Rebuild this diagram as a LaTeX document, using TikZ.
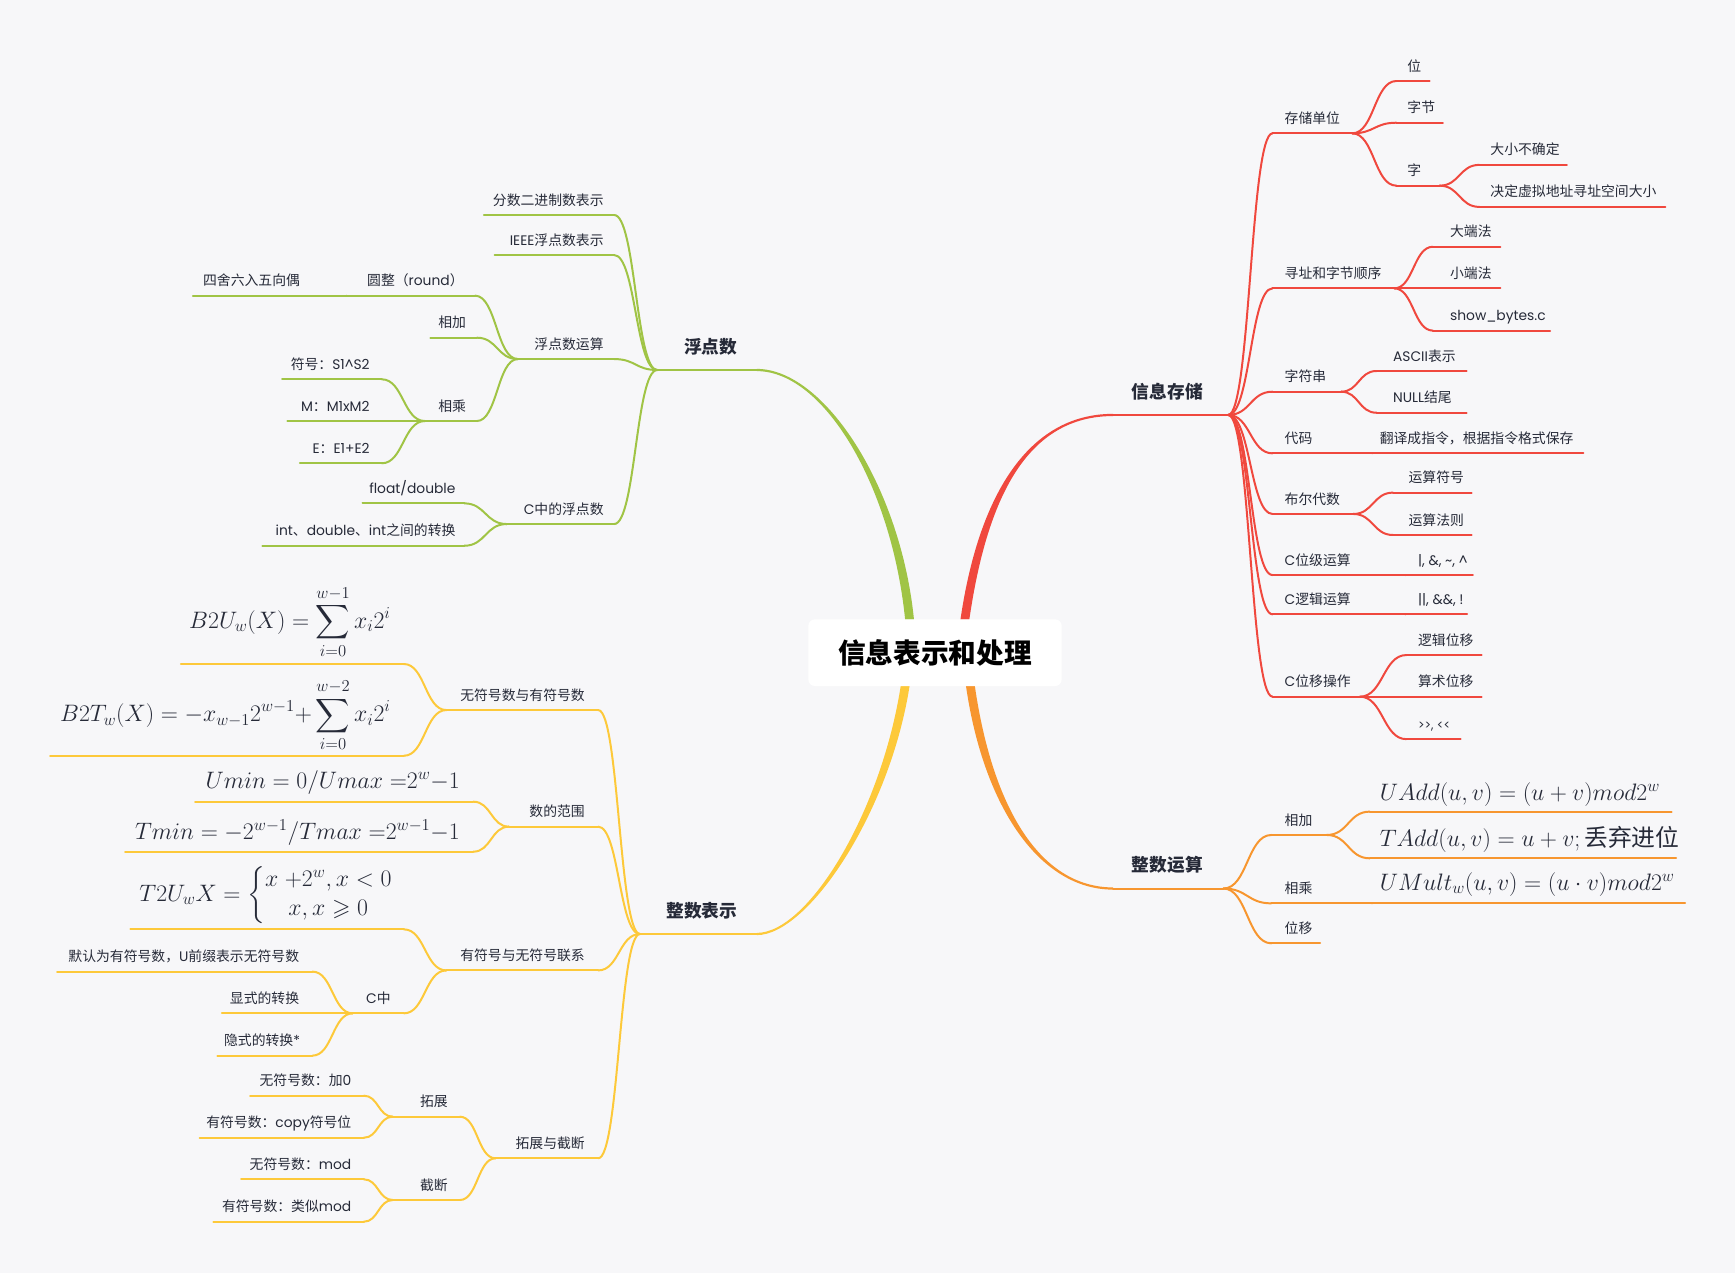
\RequirePackage{fix-cm}
\documentclass[tikz,border=0pt]{standalone}
\usepackage{amsmath,amssymb}
\usepackage[no-math]{fontspec}
\setmainfont{Noto Sans CJK SC}
\newfontfamily\lat{Poppins}
\usetikzlibrary{calc}
\definecolor{bgc}{HTML}{F7F7F9}
\definecolor{cr}{HTML}{F0483E}
\definecolor{co}{HTML}{F7962F}
\definecolor{cg}{HTML}{A0C445}
\definecolor{cy}{HTML}{FDC93A}
\definecolor{ctx}{HTML}{262A38}
\tikzset{
  lbl/.style={inner sep=0pt, outer sep=0pt, text=ctx, font=\fontsize{12.5}{15}\selectfont},
  mlbl/.style={inner sep=0pt, outer sep=0pt, text=ctx, font=\fontsize{16}{19}\selectfont\bfseries},
  fml/.style={inner sep=0pt, outer sep=0pt, text=ctx, font=\fontsize{21.5}{26}\selectfont},
  br/.style={line width=1.8pt, draw=#1, line cap=round},
}
\newcommand\conn[3]{\draw[br=#1] (#2) .. controls ($(#2)!0.5!(#3 |- #2)$) and ($(#3)!0.5!(#2 |- #3)$) .. (#3);}
\newcommand\tp[8]{%
  \coordinate (#1-s) at (#3,#5);
  \coordinate (#1-e) at (#4,#5);
  \draw[br=#2] (#1-s) -- (#1-e);
  \node[lbl, anchor=#6] (#1) at (#7,#5-9) {#8};}
\newcommand\ul[5]{%
  \coordinate (#1-s) at (#3,#5);
  \coordinate (#1-e) at (#4,#5);
  \draw[br=#2] (#1-s) -- (#1-e);}
\begin{document}
\begin{tikzpicture}[x=1pt,y=-1pt]
\fill[bgc] (0,0) rectangle (1568,1150.4);
\useasboundingbox (0,0) rectangle (1568,1150.4);

% ---------- main branches (tapered) ----------
\fill[cg] (818,560) .. controls (806,440) and (745,335.4) .. (684,335.4) -- (684,333.4) .. controls (745,333.4) and (814,440) .. (826,560) -- cycle;
\fill[cr] (868,560) .. controls (884,450) and (928,374) .. (1006,374) -- (1006,376) .. controls (928,376) and (892,450) .. (876,560) -- cycle;
\fill[cy] (814,620) .. controls (796,735) and (730,843.1) .. (684,843.1) -- (684,845.1) .. controls (730,845.1) and (804,735) .. (822,620) -- cycle;
\fill[co] (873,620) .. controls (889,730) and (940,804) .. (1006,804) -- (1006,802) .. controls (940,802) and (897,730) .. (881,620) -- cycle;

\node[fill=white, rounded corners=6pt, inner sep=0pt, minimum width=229pt, minimum height=60.3pt,
      font=\fontsize{25}{30}\selectfont\bfseries, text=black] (C) at (845,589.85) {信息表示和处理};

% ---------- 信息存储 (red) ----------
\ul{R}{cr}{1006}{1110}{375}
\node[mlbl, anchor=base west] (R) at (1023,360) {信息存储};
\tp{r1}{cr}{1150}{1222}{120.5}{base west}{1161}{存储单位}
\tp{r11}{cr}{1262}{1292}{73.2}{base west}{1272}{位}
\tp{r12}{cr}{1262}{1304}{110.9}{base west}{1272}{字节}
\tp{r13}{cr}{1262}{1301}{167.8}{base west}{1272}{字}
\tp{r131}{cr}{1337}{1416}{149}{base west}{1347}{大小不确定}
\tp{r132}{cr}{1337}{1505}{187}{base west}{1347}{决定虚拟地址寻址空间大小}
\tp{r2}{cr}{1150}{1260}{260.6}{base west}{1161}{寻址和字节顺序}
\tp{r21}{cr}{1295}{1356}{223}{base west}{1310.5}{大端法}
\tp{r22}{cr}{1295}{1356}{260.6}{base west}{1310.5}{小端法}
\tp{r23}{cr}{1295}{1401}{298.8}{base west}{1310.5}{{\lat show\_bytes.c}}
\tp{r3}{cr}{1150}{1212}{354}{base west}{1161}{字符串}
\tp{r31}{cr}{1244}{1325.5}{335.3}{base west}{1259}{{\lat ASCII}表示}
\tp{r32}{cr}{1244}{1325.5}{373}{base west}{1259}{{\lat NULL}结尾}
\tp{r4}{cr}{1150}{1240}{409.7}{base west}{1161}{代码}
\tp{r41}{cr}{1240}{1431}{409.7}{base west}{1247}{翻译成指令，根据指令格式保存}
\tp{r5}{cr}{1150}{1223}{464.5}{base west}{1161}{布尔代数}
\tp{r51}{cr}{1259}{1330}{445.2}{base west}{1273}{运算符号}
\tp{r52}{cr}{1259}{1330}{483.5}{base west}{1273}{运算法则}
\tp{r6}{cr}{1150}{1270}{519.7}{base west}{1161}{{\lat C}位级运算}
\tp{r61}{cr}{1270}{1331}{519.7}{base west}{1281.6}{{\lat |, \&, \textasciitilde, \textasciicircum}}
\tp{r7}{cr}{1150}{1270}{555.2}{base west}{1161}{{\lat C}逻辑运算}
\tp{r71}{cr}{1270}{1326}{555.2}{base west}{1281.6}{{\lat ||, \&\&, !}}
\tp{r8}{cr}{1150}{1229}{629.6}{base west}{1161}{{\lat C}位移操作}
\tp{r81}{cr}{1271}{1339}{592}{base west}{1281.6}{逻辑位移}
\tp{r82}{cr}{1271}{1339}{629.6}{base west}{1281.6}{算术位移}
\tp{r83}{cr}{1271}{1320}{668}{base west}{1281.6}{{\lat\fontsize{11}{13}\selectfont >\kern0pt>, <\kern0pt<}}
\foreach \c in {r1,r2,r3,r4,r5,r6,r7,r8} {\conn{cr}{R-e}{\c-s}}
\foreach \c in {r11,r12,r13} {\conn{cr}{r1-e}{\c-s}}
\foreach \c in {r131,r132} {\conn{cr}{r13-e}{\c-s}}
\foreach \c in {r21,r22,r23} {\conn{cr}{r2-e}{\c-s}}
\foreach \c in {r31,r32} {\conn{cr}{r3-e}{\c-s}}
\conn{cr}{r4-e}{r41-s}
\foreach \c in {r51,r52} {\conn{cr}{r5-e}{\c-s}}
\conn{cr}{r6-e}{r61-s}
\conn{cr}{r7-e}{r71-s}
\foreach \c in {r81,r82,r83} {\conn{cr}{r8-e}{\c-s}}

% ---------- 整数运算 (orange) ----------
\ul{O}{co}{1006}{1105.6}{803}
\node[mlbl, anchor=base west] (O) at (1023,788) {整数运算};
\tp{o1}{co}{1149}{1199}{754.6}{base west}{1161}{相加}
\ul{o11}{co}{1238}{1510.8}{733.5}
\node[fml, anchor=base west] (o11) at (1247,723) {$UAdd(u,v)=(u+v)mod2^w$};
\ul{o12}{co}{1238}{1514.7}{775.7}
\node[fml, anchor=base west] (o12) at (1247,765) {$TAdd(u,v)=u+v;\text{丢弃进位}$};
\tp{o2}{co}{1149}{1240}{816.4}{base west}{1161}{相乘}
\ul{o21}{co}{1240}{1522.8}{816.4}
\node[fml, anchor=base west] (o21) at (1247,804.5) {$UMult_w(u,v)=(u\cdot v)mod2^w$};
\tp{o3}{co}{1149}{1193}{852.5}{base west}{1161}{位移}
\foreach \c in {o1,o2,o3} {\conn{co}{O-e}{\c-s}}
\foreach \c in {o11,o12} {\conn{co}{o1-e}{\c-s}}
\conn{co}{o2-e}{o21-s}

% ---------- 浮点数 (green) ----------
\ul{G}{cg}{594}{684}{334.4}
\node[mlbl, anchor=base east] (G) at (666.3,319.4) {浮点数};
\tp{g1}{cg}{437.3}{555}{194.3}{base east}{545.5}{分数二进制数表示}
\tp{g2}{cg}{447}{555}{230.5}{base east}{545.5}{{\lat IEEE}浮点数表示}
\tp{g3}{cg}{468}{555}{324.5}{base east}{545.5}{浮点数运算}
\tp{g4}{cg}{458}{555}{473.6}{base east}{545.5}{{\lat C}中的浮点数}
\tp{g31}{cg}{313}{429.3}{267.2}{base east}{419}{圆整（{\lat round}）}
\tp{g311}{cg}{174.3}{313}{267.2}{base east}{271.1}{四舍六入五向偶}
\tp{g32}{cg}{389}{431}{305.2}{base east}{421.2}{相加}
\tp{g33}{cg}{384}{431}{380.5}{base east}{421.2}{相乘}
\tp{g331}{cg}{255}{345}{342.8}{base east}{334}{符号：{\lat S1\textasciicircum S2}}
\tp{g332}{cg}{259.8}{384}{380.5}{base east}{334}{{\lat M}：{\lat M1xM2}}
\tp{g333}{cg}{271}{345}{418.7}{base east}{334}{{\lat E}：{\lat E1+E2}}
\tp{g41}{cg}{327.6}{419.6}{454.9}{base east}{411.6}{{\lat float/double}}
\tp{g42}{cg}{237.2}{419.6}{493.2}{base east}{411.6}{{\lat int}、{\lat double}、{\lat int}之间的转换}
\foreach \c in {g1,g2,g3,g4} {\conn{cg}{\c-e}{G-s}}
\foreach \c in {g31,g32,g33} {\conn{cg}{\c-e}{g3-s}}
\conn{cg}{g311-e}{g31-s}
\foreach \c in {g331,g332,g333} {\conn{cg}{\c-e}{g33-s}}
\foreach \c in {g41,g42} {\conn{cg}{\c-e}{g4-s}}

% ---------- 整数表示 (yellow) ----------
\ul{Y}{cy}{578.4}{684}{844.1}
\node[mlbl, anchor=base east] (Y) at (666.3,829) {整数表示};
\tp{y1}{cy}{403.4}{540.6}{641.7}{base east}{528.5}{无符号数与有符号数}
\tp{y2}{cy}{460}{540.6}{747.1}{base east}{528.5}{数的范围}
\tp{y3}{cy}{403.4}{540.6}{877}{base east}{528.5}{有符号与无符号联系}
\tp{y4}{cy}{447.8}{540.6}{1046.8}{base east}{528.5}{拓展与截断}
\ul{y11}{cy}{163.4}{365}{600.1}
\node[fml, anchor=base east] (y11) at (353,567.8) {$\displaystyle B2U_w(X)=\sum_{i=0}^{w-1}x_i2^i$};
\ul{y12}{cy}{45.2}{365}{683}
\node[fml, anchor=base east] (y12) at (353,652.2) {$\displaystyle B2T_w(X)=-x_{w-1}2^{w-1}{+}\sum_{i=0}^{w-2}x_i2^i$};
\ul{y21}{cy}{176.3}{427.7}{724.5}
\node[fml, anchor=base east] (y21) at (415.6,712.4) {$Umin=0/Umax\;{=}2^w{-}1$};
\ul{y22}{cy}{113}{427.7}{769.7}
\node[fml, anchor=base east] (y22) at (415.6,758.5) {$Tmin=-2^{w-1}/Tmax\;{=}2^{w-1}{-}1$};
\ul{y31}{cy}{117.8}{365}{839.9}
\node[fml, anchor=east] (y31) at (355,809) {$T2U_wX=\left\{\begin{array}{@{}c@{}}x\;{+}2^w,x<0\\ x,x\geqslant 0\end{array}\right.$};
\tp{y32}{cy}{318.7}{365}{915.8}{base east}{353}{{\lat C}中}
\tp{y321}{cy}{51.6}{282.4}{878.1}{base east}{270.3}{默认为有符号数，{\lat U}前缀表示无符号数}
\tp{y322}{cy}{200.5}{318.7}{915.8}{base east}{270.3}{显式的转换}
\tp{y323}{cy}{196.5}{282.4}{954}{base east}{271.1}{隐式的转换{\lat *}}
\tp{y41}{cy}{355}{415.6}{1009.2}{base east}{404.7}{拓展}
\tp{y411}{cy}{226}{328.8}{990.2}{base east}{317.5}{无符号数：加{\lat 0}}
\tp{y412}{cy}{180.3}{328.8}{1028.2}{base east}{317.5}{有符号数：{\lat copy}符号位}
\tp{y42}{cy}{355}{415.6}{1084.5}{base east}{404.7}{截断}
\tp{y421}{cy}{217.9}{328.8}{1065.8}{base east}{317.5}{无符号数：{\lat mod}}
\tp{y422}{cy}{192.9}{328.8}{1104.1}{base east}{317.5}{有符号数：类似{\lat mod}}
\foreach \c in {y1,y2,y3,y4} {\conn{cy}{\c-e}{Y-s}}
\foreach \c in {y11,y12} {\conn{cy}{\c-e}{y1-s}}
\foreach \c in {y21,y22} {\conn{cy}{\c-e}{y2-s}}
\foreach \c in {y31,y32} {\conn{cy}{\c-e}{y3-s}}
\foreach \c in {y321,y322,y323} {\conn{cy}{\c-e}{y32-s}}
\foreach \c in {y41,y42} {\conn{cy}{\c-e}{y4-s}}
\foreach \c in {y411,y412} {\conn{cy}{\c-e}{y41-s}}
\foreach \c in {y421,y422} {\conn{cy}{\c-e}{y42-s}}
\end{tikzpicture}
\end{document}
